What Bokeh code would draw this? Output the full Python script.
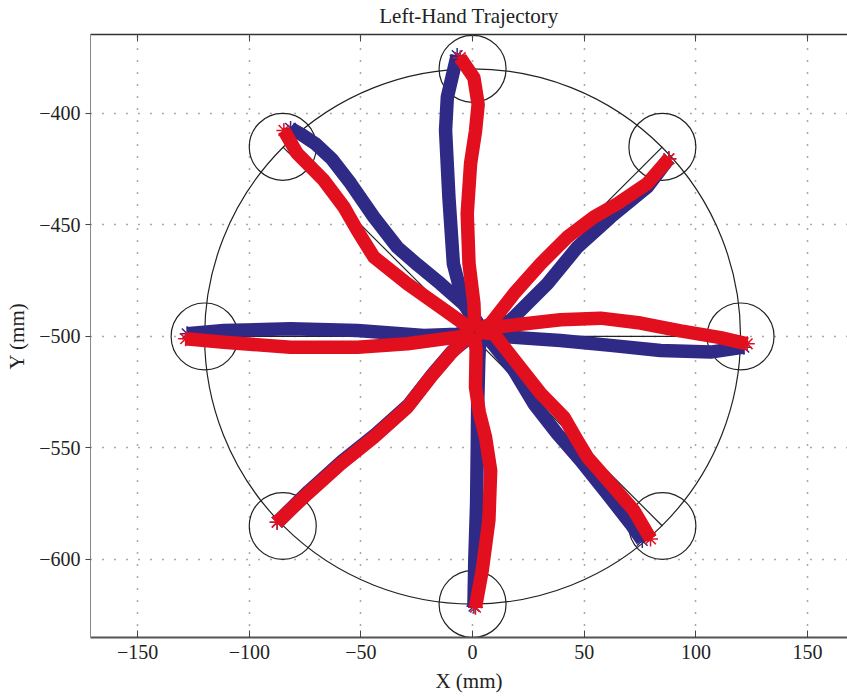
from bokeh.plotting import figure
from bokeh.models import Range1d, LinearAxis, FixedTicker
from bokeh.embed import file_html
from bokeh.resources import INLINE

# ---------------- data ----------------
title_text = "Left-Hand Trajectory"
x_ticks = [-150, -100, -50, 0, 50, 100, 150]
y_ticks = [-600, -550, -500, -450, -400]

center_x, center_y = 0, -500
workspace_r = 120
target_r = 15
target_x = [0, 85, 120, 85, 0, -85, -120, -85]
target_y = [-380, -415, -500, -585, -620, -585, -500, -415]

# blue trajectories
b_up_x = [3, -3.9, -8.6, -10.6, -12.1, -11.3, -6.9]
b_up_y = [-497, -485.3, -467.4, -437.5, -407.6, -392.7, -374]
b_ur_x = [3.5, 17, 33.5, 46.9, 61.8, 78.2, 87.9]
b_ur_y = [-498, -492.8, -476.4, -460, -446.5, -433, -420.3]
b_r_x = [3.6, 17, 39.4, 61.8, 84.2, 106.6, 121.5]
b_r_y = [-498.8, -500.3, -501.8, -504, -506.3, -507, -504.8]
b_lr_x = [3.5, 6.6, 18.5, 27.5, 37.9, 48.4, 60.3, 70.8, 76]
b_lr_y = [-497, -500.3, -515.2, -530.2, -543.6, -555.6, -570.6, -584, -591.5]
b_d_x = [3.5, 2.8, 2.3, 2.1, 1.8, 1.0, 0.6]
b_d_y = [-497, -510, -530, -550, -575, -600, -621]
b_ll_x = [3, -9, -18, -28.5, -43.5, -58.5, -73.5, -87.5]
b_ll_y = [-497, -506.5, -517, -530.5, -544, -556, -569.5, -583.3]
b_l_x = [3, -6.9, -21.8, -51.6, -81.5, -111.4, -127.8]
b_l_y = [-497, -499, -499.6, -497.3, -496.6, -497.3, -498.8]
b_ul_x = [3, -2.4, -14.3, -24.5, -33.7, -44.2, -54.6, -63, -70.5, -76.5, -81.5]
b_ul_y = [-495, -486.9, -476.4, -468, -460, -446.5, -431.4, -420.5, -413.5, -409.5, -406.7]

# red trajectories
r_up_x = [1, 0.6, -1.6, -2.4, -0.9, 1.3, 2.5, 0.6, -5.5]
r_up_y = [-498, -485.3, -467.3, -445, -422.5, -408, -396, -384, -375]
r_ur_x = [1, 8.1, 18.5, 30.5, 42.4, 54.3, 64.8, 78.2, 87.9]
r_ur_y = [-498, -494.3, -480.9, -467.4, -455.5, -446.5, -440.5, -431.5, -420.3]
r_r_x = [1, 9.5, 21.5, 39.4, 57.3, 75.2, 93.1, 111, 123]
r_r_y = [-498, -496, -494.5, -492.5, -491.8, -494, -497.5, -500.5, -503.3]
r_lr_x = [1, 9.5, 20, 30.5, 40.9, 46.9, 51.4, 61.8, 72.2, 79.7]
r_lr_y = [-498, -498.8, -512.2, -525.6, -536.2, -546.6, -554.1, -566, -578, -590.8]
r_d_x = [0.6, 1.6, 1.3, 3.0, 5.8, 8.1, 7.3, 4.3, 1.3]
r_d_y = [-498.7, -506, -522.7, -534, -545.2, -560.1, -582.5, -605, -621.4]
r_ll_x = [0.6, -2.4, -9.9, -18.8, -29.2, -44.2, -59.1, -74, -87.5]
r_ll_y = [-499, -500.3, -507.8, -518.3, -531.7, -545.2, -557.2, -570.6, -583.3]
r_l_x = [0.6, -6.9, -29.2, -51.6, -81.5, -111.4, -128.5]
r_l_y = [-499, -500.3, -503.3, -504.8, -504.8, -502.6, -501]
r_ul_x = [0.6, -3.9, -14.3, -29.2, -44.2, -51.6, -57.6, -66.6, -78.5, -84.5]
r_ul_y = [-498, -494.3, -486.9, -476.4, -464.4, -452.5, -442, -430, -418, -407.6]

blue_paths = [(b_up_x, b_up_y), (b_ur_x, b_ur_y), (b_r_x, b_r_y), (b_lr_x, b_lr_y),
              (b_d_x, b_d_y), (b_ll_x, b_ll_y), (b_l_x, b_l_y), (b_ul_x, b_ul_y)]
red_paths = [(r_up_x, r_up_y), (r_ur_x, r_ur_y), (r_r_x, r_r_y), (r_lr_x, r_lr_y),
             (r_d_x, r_d_y), (r_ll_x, r_ll_y), (r_l_x, r_l_y), (r_ul_x, r_ul_y)]

BLUE = "#2f2a86"
RED = "#e20f1f"
FONT = "Liberation Serif"
TXT = "#222222"

# ---------------- figure ----------------
p = figure(width=847, height=697,
           x_range=Range1d(-171.1, 167.9), y_range=Range1d(-635, -364.6),
           output_backend="svg", toolbar_location=None,
           min_border_left=90, min_border_right=0, min_border_top=34, min_border_bottom=60)

p.title = None
p.outline_line_color = None
p.background_fill_color = "white"

# bottom axis
xa = p.xaxis[0]
xa.ticker = FixedTicker(ticks=x_ticks)
xa.major_label_overrides = {t: (str(t).replace("-", "\u2212")) for t in x_ticks}
xa.axis_label = "X (mm)"
xa.minor_tick_line_color = None
xa.major_tick_in = 7
xa.major_tick_out = 0
xa.axis_line_color = "#555555"
xa.axis_line_width = 2
xa.major_tick_line_color = "#444444"
xa.major_label_text_font = FONT
xa.major_label_text_font_size = "20px"
xa.major_label_text_color = TXT
xa.major_label_standoff = 7
xa.axis_label_text_font = FONT
xa.axis_label_text_font_size = "21px"
xa.axis_label_text_font_style = "normal"
xa.axis_label_text_color = TXT
xa.axis_label_standoff = 7

# left axis
ya = p.yaxis[0]
ya.ticker = FixedTicker(ticks=y_ticks)
ya.major_label_overrides = {t: (str(t).replace("-", "\u2212")) for t in y_ticks}
ya.axis_label = "Y (mm)"
ya.minor_tick_line_color = None
ya.major_tick_in = 0
ya.major_tick_out = 5
ya.axis_line_color = "#888888"
ya.axis_line_width = 1
ya.major_tick_line_color = "#444444"
ya.major_label_text_font = FONT
ya.major_label_text_font_size = "20px"
ya.major_label_text_color = TXT
ya.major_label_standoff = 5
ya.axis_label_text_font = FONT
ya.axis_label_text_font_size = "21px"
ya.axis_label_text_font_style = "normal"
ya.axis_label_text_color = TXT
ya.axis_label_standoff = 7

# top axis: box line with inward ticks; its label carries the chart title
top = LinearAxis(ticker=FixedTicker(ticks=x_ticks))
top.major_label_text_font_size = "1px"
top.major_label_text_color = None
top.major_label_standoff = 0
top.minor_tick_line_color = None
top.major_tick_in = 7
top.major_tick_out = 0
top.axis_line_color = "#333333"
top.axis_line_width = 1.5
top.major_tick_line_color = "#444444"
top.axis_label = title_text
top.axis_label_text_font = FONT
top.axis_label_text_font_size = "21px"
top.axis_label_text_font_style = "normal"
top.axis_label_text_color = TXT
top.axis_label_standoff = 7
p.add_layout(top, "above")

p.xgrid.ticker = FixedTicker(ticks=x_ticks)
p.ygrid.ticker = FixedTicker(ticks=y_ticks)
p.grid.grid_line_color = "#555555"
p.grid.grid_line_dash = "1 11"
p.grid.grid_line_width = 1.5

# workspace circle, targets, straight reference lines
p.ellipse(x=[center_x], y=[center_y], width=2 * workspace_r, height=2 * workspace_r,
          fill_color=None, line_color=TXT, line_width=1.2)
p.ellipse(x=target_x, y=target_y, width=2 * target_r, height=2 * target_r,
          fill_color=None, line_color=TXT, line_width=1.2)
p.segment(x0=[center_x] * len(target_x), y0=[center_y] * len(target_y),
          x1=target_x, y1=target_y, line_color=TXT, line_width=1.2)

# trajectories
for xs, ys in blue_paths:
    p.line(xs, ys, line_color=BLUE, line_width=13.5, line_join="round", line_cap="butt")
    p.scatter([xs[-1]], [ys[-1]], marker="asterisk", size=15, line_color=BLUE, line_width=1.5)
for xs, ys in red_paths:
    p.line(xs, ys, line_color=RED, line_width=13.5, line_join="round", line_cap="butt")
    p.scatter([xs[-1]], [ys[-1]], marker="asterisk", size=15, line_color=RED, line_width=1.5)

open("out.html", "w").write(file_html(p, INLINE))
